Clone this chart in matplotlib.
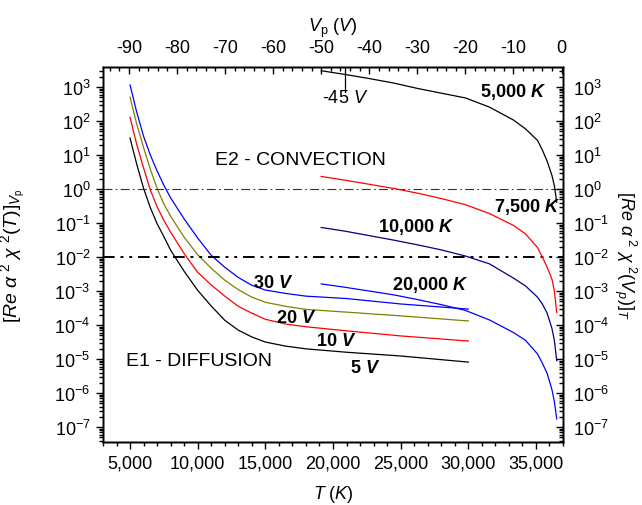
import numpy as np
import matplotlib
matplotlib.use("Agg")
import matplotlib.pyplot as plt
from matplotlib.ticker import FuncFormatter, MultipleLocator, LogLocator, NullFormatter

plt.rcParams.update({
    'font.family': 'Liberation Sans',
    'font.size': 13,
    'mathtext.fontset': 'custom',
    'mathtext.rm': 'Liberation Sans',
    'mathtext.it': 'Liberation Sans:italic',
    'mathtext.bf': 'Liberation Sans:bold',
    'mathtext.bfit': 'Liberation Sans:italic:bold',
    'axes.unicode_minus': False,
})

# ---- left family: ratio vs temperature T (bottom axis), log10 values
T_grid = [5000, 5500, 6000, 6500, 7000, 7500, 8000, 9000, 10000, 11000, 12000,
          13000, 14000, 15000, 16500, 18000, 21000, 25000, 30000]
log_5V = [1.50, 0.72, 0.02, -0.55, -1.02, -1.40, -1.80, -2.42, -2.98, -3.44, -3.86,
          -4.15, -4.35, -4.50, -4.62, -4.70, -4.80, -4.91, -5.09]
log_10V = [2.11, 1.30, 0.62, -0.03, -0.52, -0.92, -1.27, -1.90, -2.45, -2.82, -3.15,
           -3.45, -3.65, -3.83, -3.97, -4.05, -4.17, -4.32, -4.47]
log_20V = [2.70, 1.90, 1.22, 0.58, 0.02, -0.44, -0.80, -1.42, -1.93, -2.33, -2.68,
           -2.96, -3.18, -3.33, -3.45, -3.54, -3.62, -3.73, -3.88]
log_30V = [3.06, 2.25, 1.55, 1.00, 0.53, 0.11, -0.26, -0.88, -1.44, -1.95, -2.30,
           -2.60, -2.83, -2.97, -3.07, -3.15, -3.22, -3.38, -3.53]

# ---- right family: ratio vs probe voltage Vp (top axis)
V_grid = [-50, -45, -40, -35, -30, -25, -20, -15, -10, -7.5, -5, -4, -3, -2, -1.5, -1]
log_5000K = [3.48, 3.37, 3.25, 3.12, 2.96, 2.82, 2.68, 2.41, 2.03, 1.77, 1.43, 1.15,
             0.82, 0.40, 0.10, -0.39]
log_7500K = [0.37, 0.26, 0.14, 0.02, -0.12, -0.28, -0.46, -0.72, -1.07, -1.32, -1.72,
             -2.00, -2.30, -2.65, -3.00, -3.63]
log_10000K = [-1.13, -1.24, -1.37, -1.50, -1.64, -1.79, -1.97, -2.20, -2.62, -2.85,
              -3.18, -3.38, -3.65, -4.10, -4.45, -5.05]
log_20000K = [-2.79, -2.89, -3.00, -3.11, -3.25, -3.40, -3.57, -3.85, -4.22, -4.45,
              -4.85, -5.12, -5.42, -5.90, -6.25, -6.76]

T_curves = [(log_5V, 'black', '5 V', 22400, 5.8e-6),
            (log_10V, 'red', '10 V', 20260, 3.4e-5),
            (log_20V, '#808000', '20 V', 17310, 1.7e-4),
            (log_30V, 'blue', '30 V', 15540, 1.8e-3)]
V_curves = [(log_5000K, 'black', '5,000', -10.1, 7.6e2),
            (log_7500K, 'red', '7,500', -7.2, 3.2e-1),
            (log_10000K, '#000080', '10,000', -30.3, 8.1e-2),
            (log_20000K, 'blue', '20,000', -27.4, 1.6e-3)]

ylims = (10 ** -7.44, 10 ** 3.59)

fig = plt.figure(figsize=(6.42, 5.06), dpi=100)
ax = fig.add_axes([103 / 642, 1 - 443 / 506, 460 / 642, 375 / 506])
axv = ax.twiny()
axr = ax.twinx()

for vals, col, lab, tx, ty in T_curves:
    ax.plot(T_grid, 10 ** np.array(vals), color=col, lw=0.9)
    ax.text(tx, ty, lab.replace(' V', r' $\mathbfit{V}$'), ha='center', va='center',
            fontsize=13, fontweight='bold')

for vals, col, lab, tx, ty in V_curves:
    axv.plot(V_grid, 10 ** np.array(vals), color=col, lw=0.9)
    axv.text(tx, ty, lab + r' $\mathbfit{K}$', ha='center', va='center',
             fontsize=13, fontweight='bold')

# criteria lines
ax.axhline(1.0, color='#333333', lw=0.8, dashes=(8, 3, 1.5, 3))
ax.axhline(1e-2, color='black', lw=1.4, dashes=(6, 3, 1.5, 3, 1.5, 3))

# -45 V marker
axv.axvline(-45, ymin=0.933, ymax=1.0, color='black', lw=0.9)
axv.text(-45, 5e2, r'-45 $V$', ha='center', va='center', fontsize=13)

ax.text(17570, 7.6, 'E2 - CONVECTION', ha='center', va='center', fontsize=14)
ax.text(10120, 9.3e-6, 'E1 - DIFFUSION', ha='center', va='center', fontsize=14)

# axes scales
ax.set_xlim(3000, 37000)
ax.set_yscale('log')
ax.set_ylim(*ylims)
axr.set_yscale('log')
axr.set_ylim(*ylims)
axv.set_xlim(-95.4, 0.3)

ax.xaxis.set_major_locator(MultipleLocator(5000))
ax.xaxis.set_minor_locator(MultipleLocator(1000))
ax.xaxis.set_major_formatter(FuncFormatter(lambda v, p: f'{v:,.0f}'))
axv.xaxis.set_major_locator(MultipleLocator(10))
axv.xaxis.set_minor_locator(MultipleLocator(2))
axv.xaxis.set_major_formatter(FuncFormatter(lambda v, p: f'{v:.0f}'))
for a in (ax, axr):
    a.yaxis.set_major_locator(LogLocator(base=10, numticks=20))
    a.yaxis.set_minor_locator(LogLocator(base=10, subs=np.arange(2, 10), numticks=20))
    a.yaxis.set_minor_formatter(NullFormatter())

ax.tick_params(which='both', direction='out', labelsize=13, width=1, pad=4)
ax.tick_params(which='major', length=5)
ax.tick_params(which='minor', length=3)
axv.tick_params(axis='x', which='both', direction='in', labelsize=13, width=1, pad=8)
axv.tick_params(axis='x', which='major', length=5)
axv.tick_params(axis='x', which='minor', length=3)
axr.tick_params(axis='y', which='both', direction='in', labelsize=13, width=1, pad=7)
axr.tick_params(axis='y', which='major', length=5)
axr.tick_params(axis='y', which='minor', length=3)

for a in (ax, axv, axr):
    for s in a.spines.values():
        s.set_linewidth(1.0)

ax.set_xlabel(r'$T$ ($K$)', fontsize=13, labelpad=8)
axv.set_xlabel(r'$V_{\mathrm{p}}$ ($V$)', fontsize=13, labelpad=6)
ax.set_ylabel(r'$[Re\ \alpha^{\ 2}\ \chi^{\ 2}(T)]_{V_{\mathrm{p}}}$', fontsize=14)
ax.yaxis.set_label_coords(-0.163, 0.5)
axr.set_ylabel(r'$[Re\ \alpha^{\ 2}\ \chi^{\ 2}(V_{p})]_{T}$', fontsize=13,
               rotation=270, va='center', ha='center')
axr.yaxis.set_label_coords(1.135, 0.5)

fig.savefig('out.png', dpi=100)
